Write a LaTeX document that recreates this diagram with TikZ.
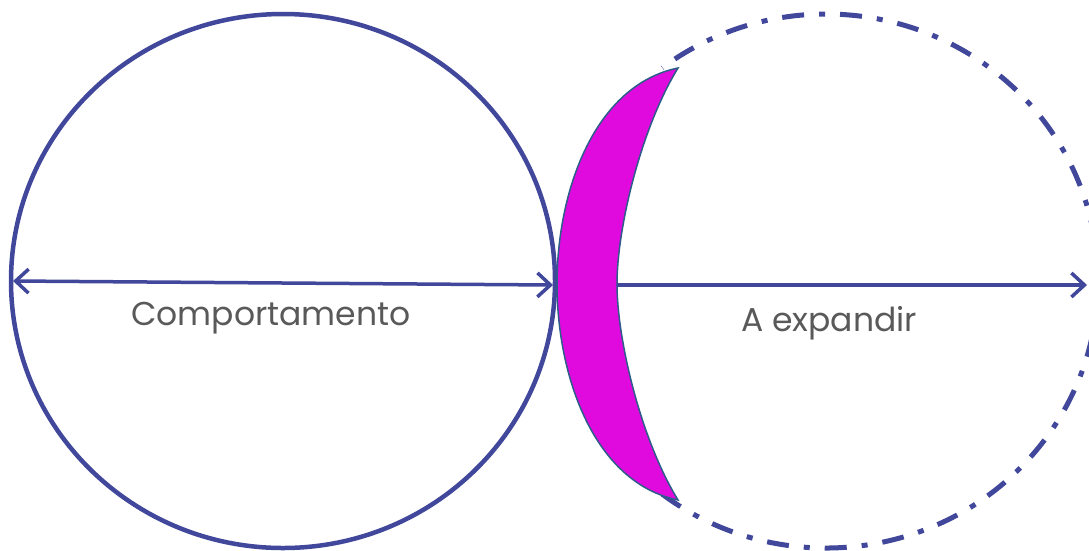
\documentclass[tikz,border=0pt]{standalone}
\usepackage{fontspec}
\setmainfont{Poppins}
\usetikzlibrary{arrows.meta}
\definecolor{navy}{HTML}{41479B}
\definecolor{mag}{HTML}{E00ADF}
\definecolor{edge}{HTML}{2E5C8A}
\definecolor{txt}{HTML}{595959}
\tikzset{
  ring/.style={draw=navy, line width=4.5pt},
  dashring/.style={draw=navy, line width=5pt, dash pattern=on 22pt off 15pt on 6pt off 15pt},
  arr/.style={draw=navy, line width=3.5pt, line cap=round, -{Straight Barb[length=13pt,width=24pt,line width=3.5pt]}},
  darr/.style={draw=navy, line width=3.5pt, line cap=round, {Straight Barb[length=13pt,width=24pt,line width=3.5pt]}-{Straight Barb[length=13pt,width=24pt,line width=3.5pt]}},
  lbl/.style={text=txt, font=\fontsize{33}{38}\selectfont, inner sep=0pt, anchor=base},
}
\begin{document}
\begin{tikzpicture}[x=1pt,y=-1pt]
\useasboundingbox (0,0) rectangle (1089,550);
% dashed ring (visible part)
\draw[dashring] (826,281) ++(127:272 and 267) arc [start angle=127, end angle=-127, x radius=272, y radius=267];
% left ring
\draw[ring] (283,281) ellipse [x radius=272, y radius=267];
% crescent
\filldraw[fill=mag, draw=edge, line width=1.5pt]
  (678,68) .. controls (595,85) and (557,190) .. (557,284)
  .. controls (557,378) and (595,483) .. (678,500)
  .. controls (640,438) and (617,338) .. (617,284)
  .. controls (617,230) and (640,130) .. cycle;
% coordinates
\coordinate (l1) at (13,281);
\coordinate (l2) at (553,285);
\coordinate (r1) at (618,285);
\coordinate (r2) at (1087,285);
\draw[darr] (l1) -- (l2);
\draw[arr] (r1) -- (r2);
% labels
\node[lbl] (comp) at (271,325) {Comportamento};
\node[lbl] (exp) at (829,331) {A expandir};
\end{tikzpicture}
\end{document}
